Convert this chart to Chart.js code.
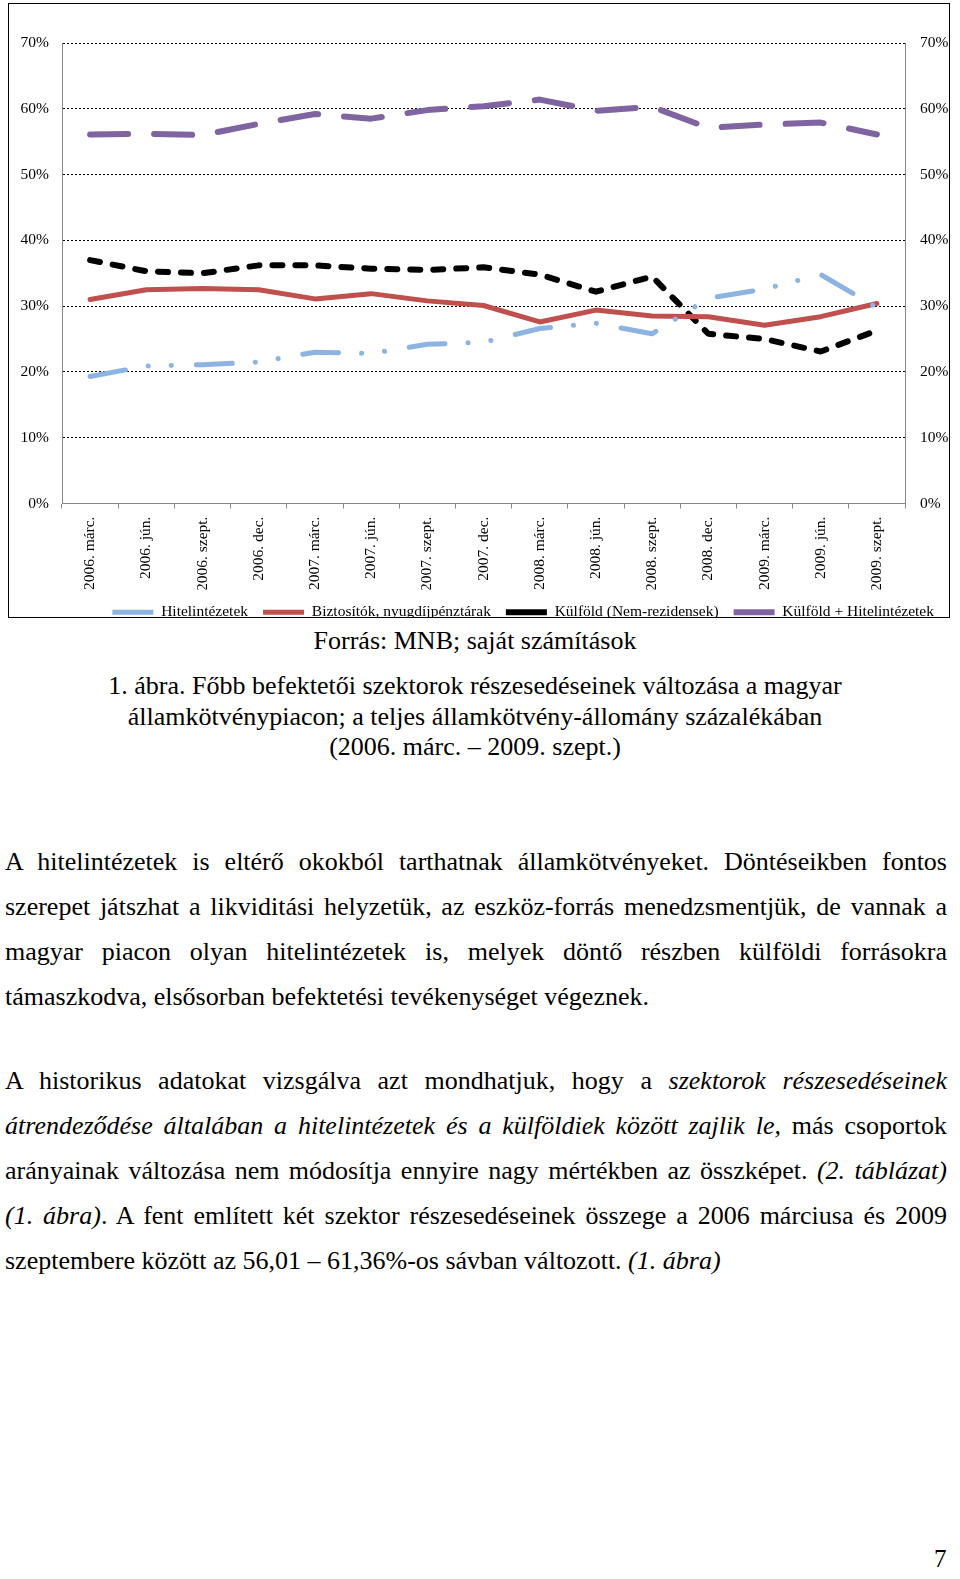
<!DOCTYPE html>
<html>
<head>
<meta charset="utf-8">
<script src="https://cdn.jsdelivr.net/npm/chart.js@4.4.1/dist/chart.umd.min.js"></script>
<style>
  body { margin: 0; width: 960px; height: 1579px; background: #fff; position: relative; font-family: "Liberation Serif", serif; color: #000; }
  #box { position: absolute; left: 8px; top: 3px; width: 942px; height: 615px; border: 1px solid #000; box-sizing: border-box; overflow: hidden; }
  #box canvas { display: block; }
  .cap { position: absolute; left: 0; width: 950px; text-align: center; font-size: 26px; }
  .para { position: absolute; left: 5px; width: 942px; font-size: 26px; line-height: 45px; }
  .para div { text-align: justify; text-align-last: justify; white-space: nowrap; }
  .para div.last { text-align-last: left; }
  .para div.j { white-space: normal; }
</style>
</head>
<body>
<div id="box"><canvas id="myChart" width="940" height="626"></canvas></div>

<div class="cap" style="top:627px; line-height:28px;">Forrás: MNB; saját számítások</div>
<div class="cap" style="top:671px; line-height:30.5px;">
  1. ábra. Főbb befektetői szektorok részesedéseinek változása a magyar<br>
  államkötvénypiacon; a teljes államkötvény-állomány százalékában<br>
  (2006. márc. – 2009. szept.)
</div>

<div class="para" style="top:839px;">
  <div class="j">A hitelintézetek is eltérő okokból tarthatnak államkötvényeket. Döntéseikben fontos</div>
  <div class="j">szerepet játszhat a likviditási helyzetük, az eszköz-forrás menedzsmentjük, de vannak a</div>
  <div class="j">magyar piacon olyan hitelintézetek is, melyek döntő részben külföldi forrásokra</div>
  <div class="last">támaszkodva, elsősorban befektetési tevékenységet végeznek.</div>
</div>

<div class="para" style="top:1058px;">
  <div class="j">A historikus adatokat vizsgálva azt mondhatjuk, hogy a <i>szektorok részesedéseinek</i></div>
  <div class="j"><i>átrendeződése általában a hitelintézetek és a külföldiek között zajlik le,</i> más csoportok</div>
  <div class="j">arányainak változása nem módosítja ennyire nagy mértékben az összképet. <i>(2. táblázat)</i></div>
  <div class="j"><i>(1. ábra)</i>. A fent említett két szektor részesedéseinek összege a 2006 márciusa és 2009</div>
  <div class="last">szeptembere között az 56,01 – 61,36%-os sávban változott. <i>(1. ábra)</i></div>
</div>

<div style="position:absolute; left:934px; top:1544px; font-size:25px; line-height:30px;">7</div>

<script>
// negyedéves adatok, % a teljes állományból
const labels = ['2006. márc.', '2006. jún.', '2006. szept.', '2006. dec.', '2007. márc.', '2007. jún.', '2007. szept.', '2007. dec.',
    '2008. márc.', '2008. jún.', '2008. szept.', '2008. dec.', '2009. márc.', '2009. jún.', '2009. szept.'];

const hitelintezetek = [19.3, 20.9, 21.1, 21.5, 23.0, 22.8, 24.2, 24.5, 26.6, 27.4, 25.8, 31.2, 32.6, 34.8, 29.8];
const biztositok = [31.0, 32.5, 32.7, 32.5, 31.1, 31.9, 30.8, 30.1, 27.6, 29.4, 28.5, 28.4, 27.1, 28.4, 30.4];
const kulfold = [37.0, 35.3, 35.0, 36.2, 36.2, 35.7, 35.5, 35.9, 34.8, 32.2, 34.5, 25.8, 25.0, 23.1, 26.3];
const kulfoldHitel = [56.1, 56.2, 56.0, 57.7, 59.2, 58.5, 59.8, 60.4, 61.4, 59.7, 60.3, 57.1, 57.6, 57.9, 56.1];

const yTicks = [0, 10, 20, 30, 40, 50, 60, 70];

const serif = { family: 'Liberation Serif', size: 15.5 };

const ctx = document.getElementById('myChart');

new Chart(ctx, {
    type: 'line',
    data: {
        labels: labels,
        datasets: [{
            label: 'Hitelintézetek',
            data: hitelintezetek,
            borderColor: '#8db3e2',
            backgroundColor: '#8db3e2',
            borderWidth: 5,
            borderDash: [36, 23, 0.1, 23, 0.1, 25],
            borderCapStyle: 'round'
        }, {
            label: 'Biztosítók, nyugdíjpénztárak',
            data: biztositok,
            borderColor: '#c0504d',
            backgroundColor: '#c0504d',
            borderWidth: 5,
            borderCapStyle: 'round'
        }, {
            label: 'Külföld (Nem-rezidensek)',
            data: kulfold,
            borderColor: '#000',
            backgroundColor: '#000',
            borderWidth: 6,
            borderDash: [10, 13],
            borderCapStyle: 'round'
        }, {
            label: 'Külföld + Hitelintézetek',
            data: kulfoldHitel,
            borderColor: '#8064a2',
            backgroundColor: '#8064a2',
            borderWidth: 6,
            borderDash: [38, 26],
            borderCapStyle: 'round'
        }]
    },
    options: {
        responsive: false,
        animation: false,
        elements: {
            point: { radius: 0 },
            line: { tension: 0, borderJoinStyle: 'round' }
        },
        layout: { padding: { top: 39, bottom: 0 } },
        plugins: {
            tooltip: { enabled: false },
            legend: {
                position: 'bottom',
                align: 'end',
                labels: {
                    usePointStyle: true,
                    pointStyle: 'line',
                    pointStyleWidth: 41,
                    padding: 15,
                    color: '#000',
                    font: serif
                }
            }
        },
        scales: {
            x: {
                offset: true,
                grid: { offset: true, drawOnChartArea: false, tickLength: 5, color: '#888' },
                border: { color: '#888' },
                ticks: { minRotation: 90, maxRotation: 90, color: '#000', font: serif, padding: 8 },
                afterFit: scale => { scale.height = 86; }
            },
            y: {
                min: 0,
                max: 70,
                afterBuildTicks: scale => { scale.ticks = yTicks.map(v => ({ value: v })); },
                grid: { color: c => c.tick && c.tick.value === 0 ? 'rgba(0,0,0,0)' : '#000', drawTicks: false },
                border: { color: '#888', dash: [2, 2] },
                ticks: { color: '#000', font: serif, padding: 13, callback: v => v + '%' },
                afterFit: scale => { scale.width = 53; }
            },
            y2: {
                position: 'right',
                min: 0,
                max: 70,
                afterBuildTicks: scale => { scale.ticks = yTicks.map(v => ({ value: v })); },
                grid: { display: false, drawTicks: false },
                border: { color: '#888' },
                ticks: { color: '#000', font: serif, padding: 15, callback: v => v + '%' },
                afterFit: scale => { scale.width = 44; }
            }
        }
    }
});
</script>
</body>
</html>
